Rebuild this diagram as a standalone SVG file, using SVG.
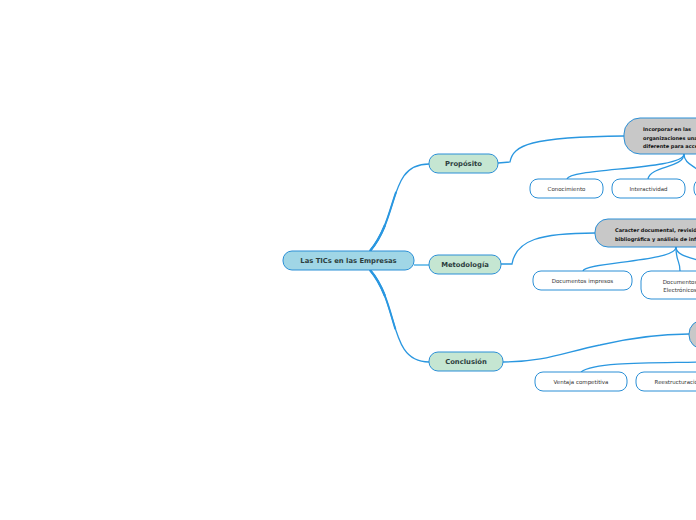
<svg xmlns="http://www.w3.org/2000/svg" width="696" height="520" viewBox="0 0 696 520">
<style>
.main{fill:#a0d6e6;stroke:#2a8fd6;stroke-width:1}
.topic{fill:#c5e6d2;stroke:#2a8fd6;stroke-width:1}
.gray{fill:#c8c8c8;stroke:#2a8fd6;stroke-width:1}
.leaf{fill:#ffffff;stroke:#2a8fd6;stroke-width:1}
.tb{font-family:"DejaVu Sans",Verdana,sans-serif;font-weight:bold;fill:#2c3e3e;text-anchor:middle}
.tg{font-family:"DejaVu Sans",Verdana,sans-serif;font-weight:bold;fill:#111;font-size:5px}
.tl{font-family:"DejaVu Sans",Verdana,sans-serif;fill:#333;font-size:5.5px;text-anchor:middle}
.c{fill:none;stroke:#2a97e0;stroke-width:1.3}
.t1{fill:none;stroke:#2a97e0;stroke-width:2.4;stroke-dasharray:30 1000}
.t2{fill:none;stroke:#2a97e0;stroke-width:1.9;stroke-dasharray:65 1000}
</style>
<rect width="696" height="520" fill="#ffffff"/>
<g id="connectors">
<path class="c" d="M370,251 C400,215 388,164 429,164" stroke-width="1.3"/>
<path class="t2" d="M370,251 C400,215 388,164 429,164"/>
<path class="t1" d="M370,251 C400,215 388,164 429,164"/>
<path class="c" d="M370,270 C400,305 388,362 429,362" stroke-width="1.3"/>
<path class="t2" d="M370,270 C400,305 388,362 429,362"/>
<path class="t1" d="M370,270 C400,305 388,362 429,362"/>
<path d="M414,265 L429,265" fill="none" stroke="#7cc4ec" stroke-width="2"/>
<path class="c" d="M498,163 L510,162 C513,145 530,137 624,136"/>
<path class="c" d="M684,154 C684,170 570,168 567,179"/>
<path class="c" d="M684,154 C684,168 650,166 648,179"/>
<path class="c" d="M684,154 C684,166 700,166 705,179"/>
<path class="c" d="M501,264 L512,264 C516,240 540,233 595,233"/>
<path class="c" d="M676,247 C676,262 585,262 583,271"/>
<path class="c" d="M676,247 C676,262 680,260 680,271"/>
<path class="c" d="M676,247 C676,258 700,258 710,265"/>
<path class="c" d="M503,362 C545,362 565,352 600,345 C630,338 660,334 689,334"/>
<path class="c" d="M700,362 C650,363 595,362 581,372"/>
</g>
<g id="central">
<rect class="main" x="283" y="251" width="131" height="19" rx="9"/>
<text class="tb" x="348.5" y="263.3" font-size="6.8">Las TICs en las Empresas</text>
</g>
<g id="proposito">
<rect class="topic" x="429" y="154" width="69" height="19" rx="9"/>
<text class="tb" x="463.5" y="166.3" font-size="6.8">Propósito</text>
</g>
<g id="metodologia">
<rect class="topic" x="429" y="255" width="72" height="19" rx="9"/>
<text class="tb" x="465" y="267.3" font-size="6.8">Metodología</text>
</g>
<g id="conclusion">
<rect class="topic" x="429" y="352" width="74" height="19" rx="9"/>
<text class="tb" x="466" y="364.3" font-size="6.8">Conclusión</text>
</g>
<g id="incorporar">
<rect class="gray" x="624" y="118" width="120" height="36" rx="16"/>
<text class="tg" x="643" y="131">Incorporar en las</text>
<text class="tg" x="643" y="139.5">organizaciones una</text>
<text class="tg" x="643" y="148">diferente para acceder</text>
</g>
<g id="conocimiento">
<rect class="leaf" x="530" y="179" width="73" height="19" rx="8"/>
<text class="tl" x="566.5" y="190.5">Conocimiento</text>
</g>
<g id="interactividad">
<rect class="leaf" x="612" y="179" width="73" height="19" rx="8"/>
<text class="tl" x="648.5" y="190.5">Interactividad</text>
</g>
<g id="leaf3">
<rect class="leaf" x="694" y="179" width="73" height="19" rx="8"/>
</g>
<g id="caracter">
<rect class="gray" x="595" y="219" width="150" height="28" rx="13"/>
<text class="tg" x="615" y="231.5">Caracter documental, revisión</text>
<text class="tg" x="615" y="240.5">bibliográfica y análisis de información</text>
</g>
<g id="impresos">
<rect class="leaf" x="533" y="271" width="99" height="19" rx="8"/>
<text class="tl" x="582.5" y="282.5">Documentos impresos</text>
</g>
<g id="electronicos">
<rect class="leaf" x="641" y="271" width="78" height="28" rx="10"/>
<text class="tl" x="680" y="283.5">Documentos</text>
<text class="tl" x="680" y="292">Electrónicos</text>
</g>
<g id="conclusion-node">
<rect class="gray" x="689" y="320" width="80" height="29" rx="14"/>
</g>
<g id="ventaja">
<rect class="leaf" x="535" y="372" width="92" height="19" rx="8"/>
<text class="tl" x="581" y="384">Ventaja competitiva</text>
</g>
<g id="reestructuracion">
<rect class="leaf" x="636" y="372" width="84" height="19" rx="8"/>
<text class="tl" x="678" y="384">Reestructuración</text>
</g>
</svg>
